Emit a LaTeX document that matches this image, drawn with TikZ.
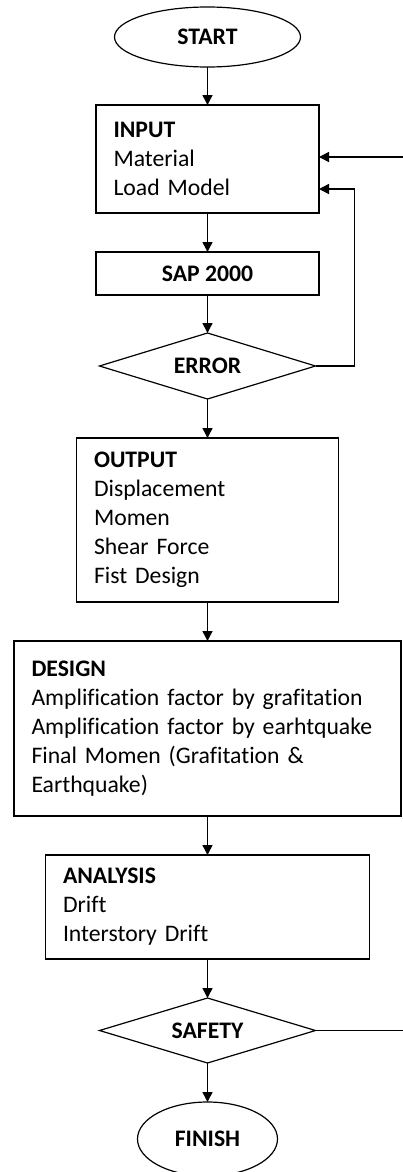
\documentclass[tikz,border=0pt]{standalone}
\usepackage{fontspec}
\setmainfont{Carlito}[Ligatures=CommonOff]
\usetikzlibrary{arrows.meta,positioning,shapes.geometric}

\begin{document}
\begin{tikzpicture}[x=1pt,y=1pt,->,>={Triangle[length=10pt,width=10pt]},line width=1.5pt,
                    node distance=39pt,
                    base/.style={draw,line width=1.2pt,outer sep=0pt,font=\fontsize{23.7}{29}\selectfont},
                    term node/.style={base,ellipse,inner sep=0pt,font=\fontsize{23.7}{29}\selectfont\bfseries},
                    test node/.style={base,diamond,aspect=3.27,inner sep=0pt,minimum width=216pt,minimum height=66pt,font=\fontsize{23.7}{29}\selectfont\bfseries},
                    list node/.style={base,rectangle,inner xsep=17.5pt,inner ysep=0pt,align=left,text width=#1-35pt,minimum width=#1}]
                    \useasboundingbox (0,0) rectangle (403,-1172);
                    \node[term node,minimum width=186pt,minimum height=60pt] (start) at (207.5,-37) {START};
                    \node[list node=223pt,minimum height=108pt] (input) [below=38pt of start] {\textbf{INPUT}\\Material\\Load Model};
                    \node[base,rectangle,minimum width=223pt,minimum height=43pt,font=\fontsize{23.7}{29}\selectfont\bfseries] (sap) [below=of input] {SAP 2000};
                    \node[test node] (error) [below=38pt of sap] {ERROR};
                    \node[list node=262pt,minimum height=164pt] (output) [below=of error] {\textbf{OUTPUT}\\Displacement\\Momen\\Shear Force\\Fist Design};
                    \node[list node=387pt,minimum height=175pt] (design) [below=of output] {\textbf{DESIGN}\\Amplification factor by grafitation\\Amplification factor by earhtquake\\Final Momen (Grafitation \&\\Earthquake)};
                    \node[list node=324pt,minimum height=104pt] (analysis) [below=of design] {\textbf{ANALYSIS}\\Drift\\Interstory Drift};
                    \node[test node,minimum height=65pt] (safety) [below=of analysis] {SAFETY};
                    \node[term node,minimum width=140pt,minimum height=74pt] (finish) [below=of safety] {FINISH};
                    \coordinate[right=39pt of error.east] (loop);
                    \coordinate (back) at (403,-157);
                    \coordinate (out) at (safety.east -| back);
                    \path (start) edge (input)
                          (input) edge (sap)
                          (sap) edge (error)
                          (error) edge (output)
                          (output) edge (design)
                          (design) edge (analysis)
                          (analysis) edge (safety)
                          (safety) edge (finish);
                    \draw (error.east) -- (loop) |- ([yshift=-30pt]input.east);
                    \draw (back) -- (back -| input.east);
                    \draw[-] (safety.east) -- (out);
                \end{tikzpicture}
\end{document}
